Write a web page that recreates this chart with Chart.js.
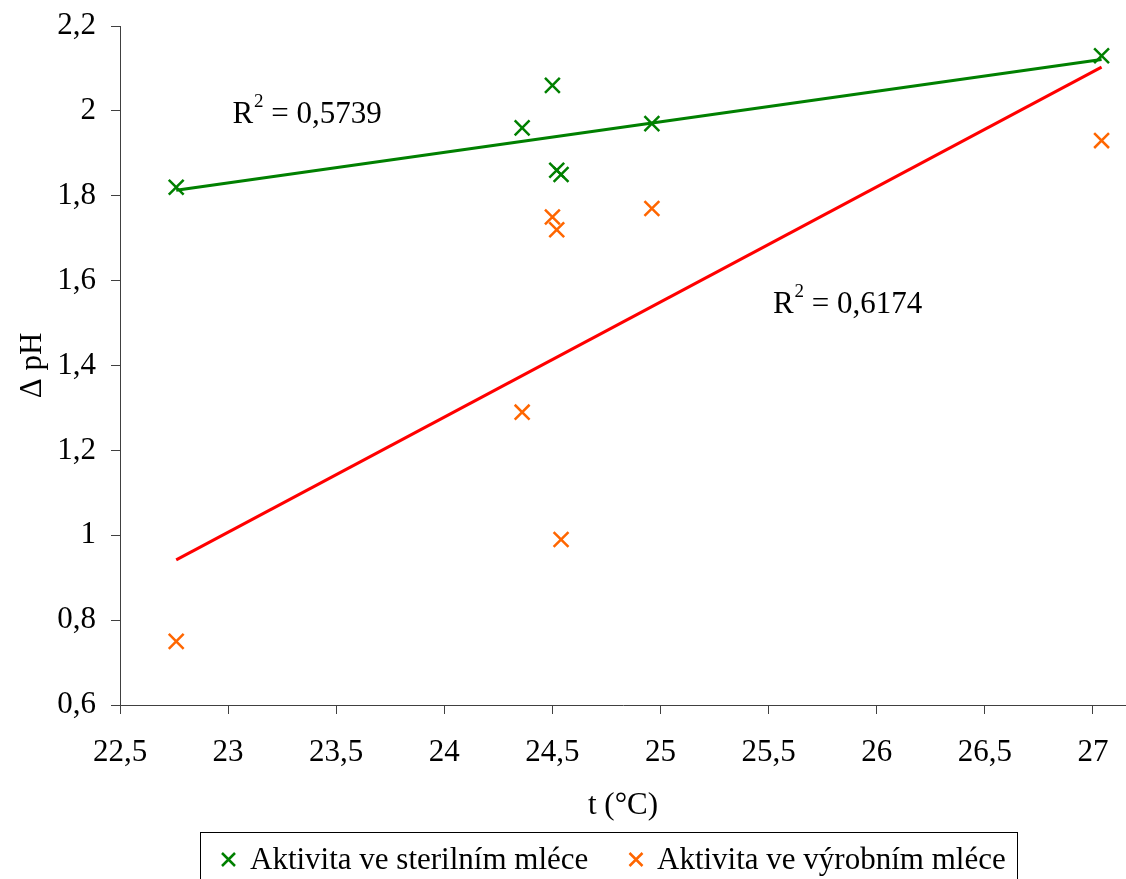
<!DOCTYPE html>
<html><head><meta charset="utf-8">
<script src="https://cdn.jsdelivr.net/npm/chart.js@4.4.1/dist/chart.umd.min.js"></script>
<style>html,body{margin:0;padding:0;background:#fff;overflow:hidden}#wrap{width:1126px;height:879px;position:relative}</style>
</head><body><div id="wrap"><canvas id="c" width="1126" height="879"></canvas></div>
<script>
// ---- data ----
const seriesNames = ['Aktivita ve sterilním mléce', 'Aktivita ve výrobním mléce'];
const sterileT = [22.76, 24.36, 24.50, 24.52, 24.54, 24.96, 27.04];
const sterileDpH = [1.82, 1.96, 2.06, 1.86, 1.85, 1.97, 2.13];
const productionT = [22.76, 24.36, 24.50, 24.52, 24.54, 24.96, 27.04];
const productionDpH = [0.75, 1.29, 1.75, 1.72, 0.99, 1.77, 1.93];
const sterileTrendT = [22.76, 27.04];
const sterileTrendDpH = [1.813, 2.121];
const productionTrendT = [22.76, 27.04];
const productionTrendDpH = [0.942, 2.103];
const xTickValues = [22.5, 23, 23.5, 24, 24.5, 25, 25.5, 26, 26.5, 27];
const xTickLabels = ['22,5', '23', '23,5', '24', '24,5', '25', '25,5', '26', '26,5', '27'];
const yTickValues = [0.6, 0.8, 1.0, 1.2, 1.4, 1.6, 1.8, 2.0, 2.2];
const yTickLabels = ['0,6', '0,8', '1', '1,2', '1,4', '1,6', '1,8', '2', '2,2'];
const r2Values = ['0,5739', '0,6174'];
const r2AnchorT = [23.02, 25.52];
const r2AnchorDpH = [1.971, 1.524];

const GREEN = '#008000', ORANGE = '#FF6600', RED = '#FF0000';
const FONT = '"Liberation Serif", "Times New Roman", serif';
const AXIS = '#404040';

const pts = (xs, ys) => xs.map((x, i) => ({x, y: ys[i]}));

const r2Plugin = {
  id: 'r2labels',
  afterDatasetsDraw(chart) {
    const {ctx, scales} = chart;
    ctx.save();
    ctx.fillStyle = '#000';
    ctx.textBaseline = 'alphabetic';
    ctx.textAlign = 'left';
    r2Values.forEach((v, i) => {
      let px = scales.x.getPixelForValue(r2AnchorT[i]);
      const py = scales.y.getPixelForValue(r2AnchorDpH[i]);
      ctx.font = '31px ' + FONT;
      ctx.fillText('R', px, py);
      px += ctx.measureText('R').width + 1;
      ctx.font = '19px ' + FONT;
      ctx.fillText('2', px, py - 16);
      px += ctx.measureText('2').width;
      ctx.font = '31px ' + FONT;
      ctx.fillText(' = ' + v, px, py);
    });
    ctx.restore();
  }
};

const legendPlugin = {
  id: 'boxLegend',
  afterDraw(chart) {
    const {ctx} = chart;
    ctx.save();
    ctx.strokeStyle = '#000';
    ctx.lineWidth = 1;
    ctx.strokeRect(200.5, 832.5, 817, 80);
    const items = [
      {color: GREEN, mx: 228.5, tx: 250, text: seriesNames[0]},
      {color: ORANGE, mx: 636, tx: 657, text: seriesNames[1]}
    ];
    items.forEach(it => {
      const cy = 859.5, r = 6.5;
      ctx.strokeStyle = it.color;
      ctx.lineWidth = 2.5;
      ctx.beginPath();
      ctx.moveTo(it.mx - r, cy - r); ctx.lineTo(it.mx + r, cy + r);
      ctx.moveTo(it.mx + r, cy - r); ctx.lineTo(it.mx - r, cy + r);
      ctx.stroke();
      ctx.fillStyle = '#000';
      ctx.font = '31px ' + FONT;
      ctx.textBaseline = 'alphabetic';
      ctx.fillText(it.text, it.tx, 869);
    });
    ctx.restore();
  }
};

new Chart(document.getElementById('c'), {
  type: 'scatter',
  data: {
    datasets: [
      {label: seriesNames[0], data: pts(sterileT, sterileDpH), pointStyle: 'crossRot', pointRadius: 10.5,
       borderColor: GREEN, backgroundColor: GREEN, borderWidth: 2.5},
      {label: seriesNames[1], data: pts(productionT, productionDpH), pointStyle: 'crossRot', pointRadius: 10.5,
       borderColor: ORANGE, backgroundColor: ORANGE, borderWidth: 2.5},
      {label: 'trend1', data: pts(sterileTrendT, sterileTrendDpH), showLine: true, pointRadius: 0,
       borderColor: GREEN, borderWidth: 3, fill: false},
      {label: 'trend2', data: pts(productionTrendT, productionTrendDpH), showLine: true, pointRadius: 0,
       borderColor: RED, borderWidth: 3, fill: false}
    ]
  },
  options: {
    responsive: false,
    animation: false,
    devicePixelRatio: 1,
    events: [],
    layout: {autoPadding: false, padding: {top: 26, left: 0, right: 0, bottom: 0}},
    plugins: {legend: {display: false}, tooltip: {enabled: false}},
    scales: {
      x: {
        type: 'linear', min: 22.5, max: 27.153,
        afterBuildTicks: s => { s.ticks = xTickValues.map(v => ({value: v})); },
        afterFit: s => { s.height = 174; s.paddingLeft = 0; s.paddingRight = 0; },
        ticks: {callback: (v, i) => xTickLabels[i], font: {family: FONT, size: 31}, color: '#000',
                padding: 20, maxRotation: 0, autoSkip: false},
        grid: {drawOnChartArea: false, drawTicks: true, tickLength: 9, color: AXIS, lineWidth: 1},
        border: {color: AXIS, width: 1},
        title: {display: true, text: 't (°C)', font: {family: FONT, size: 31}, color: '#000',
                padding: {top: 0, bottom: 55}}
      },
      y: {
        type: 'linear', min: 0.6, max: 2.2,
        afterBuildTicks: s => { s.ticks = yTickValues.map(v => ({value: v})); },
        afterFit: s => { s.width = 120; s.paddingTop = 0; s.paddingBottom = 0; },
        ticks: {callback: (v, i) => yTickLabels[i], font: {family: FONT, size: 31}, color: '#000',
                padding: 15, autoSkip: false},
        grid: {drawOnChartArea: false, drawTicks: true, tickLength: 9, color: AXIS, lineWidth: 1},
        border: {color: AXIS, width: 1},
        title: {display: true, text: 'Δ pH', font: {family: FONT, size: 31}, color: '#000',
                padding: {top: 14, bottom: 0}}
      }
    }
  },
  plugins: [r2Plugin, legendPlugin]
});
</script></body></html>
